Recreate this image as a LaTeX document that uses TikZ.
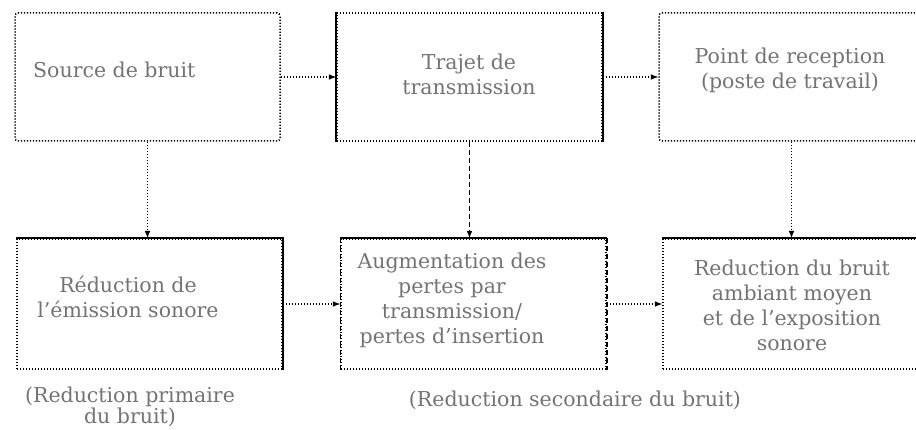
\documentclass[tikz,border=0pt]{standalone}
\usepackage{fontspec}
\setmainfont{DejaVu Serif}

\begin{document}
\begin{tikzpicture}[x=1pt,y=-1pt]
  % Colors
  \colorlet{textcolor}{black!55}
  \colorlet{framecolor}{black}

  % Styles
  \tikzstyle{box}=[draw=framecolor,line width=1.5pt,dash pattern=on 1.2pt off 1.8pt,
    minimum width=265pt,minimum height=128pt,inner sep=0pt]
  \tikzstyle{label text}=[text=textcolor,align=center,inner sep=0pt,
    font=\fontsize{20.5}{25}\selectfont]
  \tikzstyle{solid edge}=[draw=framecolor,line width=2pt,solid]
  \tikzstyle{conn}=[draw=framecolor,line width=1.5pt,dash pattern=on 1.2pt off 1.8pt,
    -latex]

  \clip (0,0) rectangle (916,430);

  % Boxes, top row
  \node[box,rounded corners=3pt] (source) at (147.5,77) {};
  \node[box] (trajet) at (469.5,77) {};
  \node[box,rounded corners=3pt] (reception) at (791.5,77) {};

  % Boxes, bottom row
  \node[box,minimum height=130pt] (emission) at (149.5,304) {};
  \node[box,minimum height=130pt] (pertes) at (473.5,304) {};
  \node[box,minimum height=130pt] (ambiant) at (795.5,304) {};

  % Solid and dashed sides
  \draw[solid edge] (trajet.north west) -- (trajet.south west);
  \draw[solid edge] (trajet.north east) -- (trajet.south east);
  \draw[solid edge] (emission.north west) -- (emission.north east) -- (emission.south east);
  \draw[solid edge] (pertes.north west) -- (pertes.north east);
  \draw[solid edge,line width=1.5pt,dash pattern=on 5pt off 3pt] (pertes.north west) -- (pertes.south west);
  \draw[solid edge,line width=1.5pt,dash pattern=on 5pt off 3pt] (pertes.north east) -- (pertes.south east);
  \draw[solid edge] (ambiant.north west) -- (ambiant.north east);

  % Texts
  \node[label text,anchor=west] (tsource) at (33,70) {Source de bruit};
  \node[label text] (ttrajet) at (469,74) {Trajet de\\transmission};
  \node[label text] (treception) at (790,70) {Point de reception\\(poste de travail)};
  \node[label text] (temission) at (128,297) {Réduction de\\l'émission sonore};
  \node[label text] (tpertes) at (452,300) {Augmentation des\\pertes par\\transmission/\\pertes d'insertion};
  \node[label text] (tambiant) at (792,305) {Reduction du bruit\\ambiant moyen\\et de l'exposition\\sonore};
  \node[label text,font=\fontsize{20.5}{21}\selectfont] (primaire) at (130,407) {(Reduction primaire\\du bruit)};
  \node[label text] (secondaire) at (575,400) {(Reduction secondaire du bruit)};

  % Connectors
  \draw[conn] (source) -- (trajet);
  \draw[conn] (trajet) -- (reception);
  \draw[conn] (emission) -- (pertes);
  \draw[conn] (pertes) -- (ambiant);
  \draw[conn] (source.south) -- (source.south |- emission.north);
  \draw[conn,dash pattern=on 5pt off 3pt] (trajet.south) -- (trajet.south |- pertes.north);
  \draw[conn] (reception.south) -- (reception.south |- ambiant.north);
\end{tikzpicture}
\end{document}
